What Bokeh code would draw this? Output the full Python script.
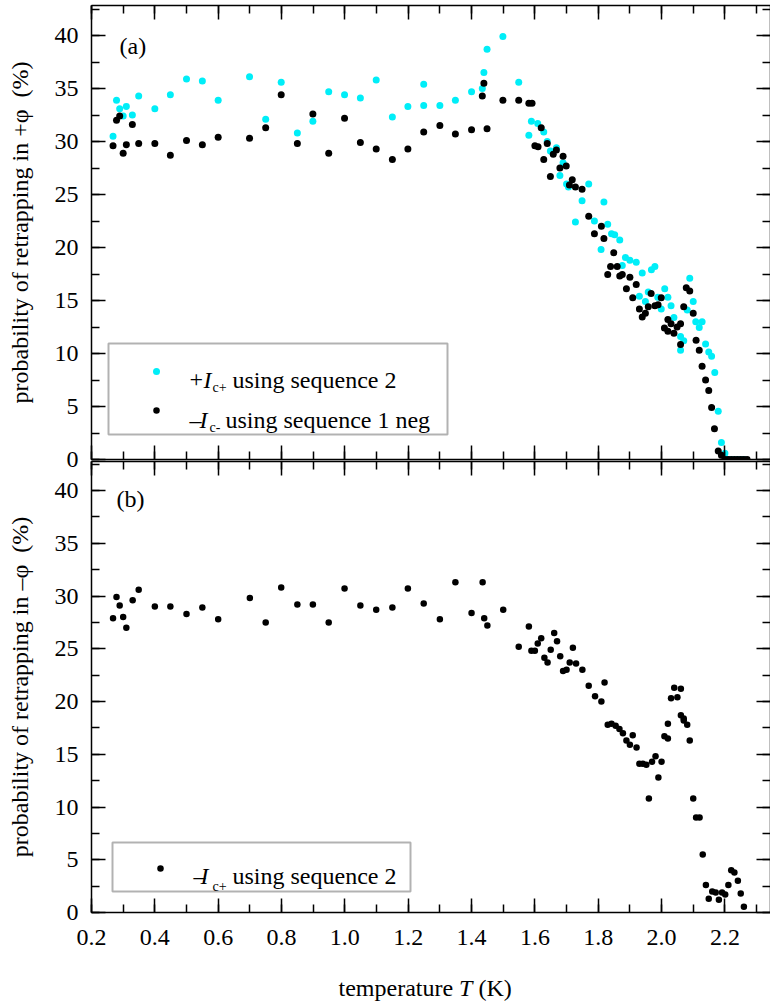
import math
from bokeh.plotting import figure
from bokeh.models import (LinearAxis, SingleIntervalTicker, PrintfTickFormatter,
                          Label, BoxAnnotation, Range1d)
from bokeh.layouts import column
from bokeh.embed import file_html
from bokeh.resources import INLINE

# ---------------- data ----------------
# panel (a): +Ic+ using sequence 2 (cyan)
a_cyan_T = [0.268, 0.279, 0.289, 0.300, 0.310, 0.329, 0.349, 0.400, 0.449, 0.500,
            0.550, 0.600, 0.699, 0.750, 0.799, 0.850, 0.899, 0.949, 0.999, 1.049,
            1.099, 1.150, 1.199, 1.249, 1.249, 1.300, 1.349, 1.400, 1.434, 1.439,
            1.449, 1.499, 1.549, 1.581, 1.589, 1.609, 1.628, 1.639, 1.649, 1.668,
            1.679, 1.689, 1.700, 1.706, 1.728, 1.749, 1.770, 1.788, 1.809, 1.818,
            1.830, 1.842, 1.852, 1.868, 1.876, 1.886, 1.900, 1.920, 1.930, 1.939,
            1.949, 1.958, 1.968, 1.979, 1.988, 1.999, 2.010, 2.020, 2.030, 2.039,
            2.060, 2.060, 2.070, 2.081, 2.089, 2.100, 2.108, 2.119, 2.128, 2.139,
            2.149, 2.158, 2.168, 2.179, 2.189, 2.200, 2.210, 2.220, 2.230, 2.240,
            2.250, 2.260]
a_cyan_P = [30.5, 33.9, 33.1, 32.4, 33.3, 32.5, 34.3, 33.1, 34.4, 35.9,
            35.7, 33.9, 36.1, 32.1, 35.6, 30.8, 31.9, 34.7, 34.4, 34.1,
            35.8, 32.3, 33.3, 35.4, 33.4, 33.4, 33.9, 34.7, 35.0, 36.5,
            38.7, 39.9, 35.6, 30.6, 31.9, 31.7, 30.9, 30.0, 29.1, 29.4,
            26.8, 28.0, 26.0, 25.7, 22.4, 24.4, 26.0, 22.5, 19.8, 24.3,
            22.2, 21.3, 21.2, 20.7, 18.3, 19.05, 18.8, 18.6, 15.4, 17.6,
            14.9, 15.8, 17.9, 18.2, 15.3, 14.2, 16.1, 15.3, 14.5, 13.4,
            11.6, 10.3, 11.2, 14.1, 17.1, 14.9, 13.0, 12.45, 13.0, 10.9,
            10.15, 9.75, 8.2, 4.55, 1.6, 0.6, 0.0, 0.0, 0.0, 0.0,
            0.0, 0.0]

# panel (a): -Ic- using sequence 1 neg (black)
a_black_T = [0.268, 0.279, 0.289, 0.300, 0.310, 0.329, 0.349, 0.400, 0.449, 0.500,
             0.550, 0.600, 0.699, 0.750, 0.799, 0.850, 0.899, 0.949, 0.999, 1.049,
             1.099, 1.150, 1.199, 1.249, 1.300, 1.349, 1.400, 1.434, 1.439, 1.449,
             1.499, 1.549, 1.581, 1.591, 1.600, 1.610, 1.620, 1.628, 1.639, 1.649,
             1.658, 1.668, 1.679, 1.689, 1.699, 1.709, 1.718, 1.728, 1.749, 1.770,
             1.788, 1.810, 1.818, 1.830, 1.839, 1.849, 1.860, 1.868, 1.876, 1.889,
             1.900, 1.909, 1.920, 1.930, 1.939, 1.949, 1.958, 1.967, 1.979, 1.989,
             1.999, 2.009, 2.020, 2.020, 2.030, 2.039, 2.049, 2.060, 2.060, 2.070,
             2.078, 2.089, 2.100, 2.109, 2.119, 2.128, 2.139, 2.149, 2.158, 2.167,
             2.179, 2.189, 2.200, 2.210, 2.220, 2.230, 2.240, 2.250, 2.260, 2.270]
a_black_P = [29.6, 32.0, 32.4, 28.9, 29.7, 31.6, 29.8, 29.8, 28.7, 30.1,
             29.7, 30.4, 30.3, 31.3, 34.4, 29.8, 32.6, 28.9, 32.2, 29.9,
             29.3, 28.3, 29.3, 30.9, 31.5, 30.7, 31.1, 34.3, 35.5, 31.2,
             33.9, 33.9, 33.6, 33.6, 29.6, 29.5, 31.3, 28.3, 29.8, 26.7,
             28.8, 29.2, 27.5, 28.6, 27.7, 25.9, 26.4, 25.7, 25.5, 22.95,
             21.3, 22.0, 20.85, 17.45, 18.2, 19.5, 18.2, 17.3, 17.45, 16.1,
             17.2, 15.25, 16.5, 14.2, 13.45, 13.8, 14.4, 15.65, 14.5, 14.6,
             15.25, 12.4, 13.2, 12.1, 12.8, 11.9, 12.5, 12.8, 10.85, 14.4,
             16.2, 15.9, 13.8, 11.25, 10.3, 8.8, 7.5, 6.5, 4.9, 2.9,
             0.8, 0.4, 0.0, 0.0, 0.0, 0.0, 0.0, 0.0, 0.0, 0.0]

# panel (b): -Ic+ using sequence 2 (black)
b_T = [0.268, 0.279, 0.289, 0.300, 0.310, 0.330, 0.349, 0.400, 0.449, 0.500,
       0.550, 0.600, 0.700, 0.750, 0.799, 0.850, 0.899, 0.949, 0.999, 1.049,
       1.099, 1.150, 1.199, 1.249, 1.300, 1.349, 1.400, 1.435, 1.440, 1.450,
       1.500, 1.549, 1.581, 1.589, 1.600, 1.609, 1.620, 1.630, 1.640, 1.650,
       1.661, 1.670, 1.680, 1.689, 1.700, 1.710, 1.720, 1.730, 1.750, 1.770,
       1.790, 1.810, 1.820, 1.830, 1.842, 1.855, 1.867, 1.878, 1.889, 1.900,
       1.909, 1.921, 1.930, 1.941, 1.952, 1.960, 1.970, 1.981, 1.990, 2.000,
       2.009, 2.020, 2.020, 2.030, 2.040, 2.050, 2.061, 2.061, 2.070, 2.070,
       2.081, 2.089, 2.100, 2.109, 2.120, 2.130, 2.140, 2.149, 2.160, 2.171,
       2.181, 2.191, 2.201, 2.211, 2.220, 2.230, 2.241, 2.250, 2.260]
b_P = [27.9, 29.9, 29.1, 28.0, 27.0, 29.6, 30.6, 29.0, 29.0, 28.3,
       28.9, 27.8, 29.8, 27.5, 30.8, 29.2, 29.2, 27.5, 30.7, 29.1,
       28.7, 28.9, 30.7, 29.3, 27.8, 31.3, 28.4, 31.3, 27.9, 27.2,
       28.7, 25.2, 27.1, 24.8, 24.8, 25.5, 26.0, 24.15, 23.7, 24.9,
       26.5, 25.7, 24.3, 22.9, 23.0, 23.7, 25.1, 23.6, 23.0, 21.5,
       20.5, 20.0, 21.8, 17.8, 17.9, 17.7, 17.4, 17.0, 16.3, 15.9,
       16.8, 15.65, 14.1, 14.1, 14.0, 10.8, 14.3, 14.8, 12.8, 14.3,
       16.7, 16.5, 17.9, 20.3, 21.3, 20.4, 21.2, 18.7, 18.4, 18.2,
       17.8, 16.3, 10.8, 9.0, 9.0, 5.5, 2.6, 1.3, 2.0, 1.9,
       1.2, 1.9, 1.7, 2.6, 4.0, 3.8, 3.0, 1.8, 0.55]

# ---------------- layout / style ----------------
FONT = "Liberation Serif"
CYAN = "#00EEF8"
FS = "24px"
W = 770
X0 = 0.2
FRAME_L, FRAME_R = 91, 770          # canvas x of the frames' left / right edges
PX_PER_K = 316.7
X1 = X0 + (FRAME_R - FRAME_L) / PX_PER_K

# panel (a) canvas: 0..476, frame 5..459
A_H, A_TOP, A_BOT = 476, 5, 459
A_END = (A_BOT - A_TOP) / 10.6
# panel (b) canvas starts at 460 (pulled up over the bottom of (a)), frame 461..912
B_START, B_H, B_TOP, B_BOT = 460, 495, 461, 912
B_END = (B_BOT - B_TOP) / 10.55
# x-title strip below (b)
C_START, C_H = B_START + B_H, 46


def px2x(px):
    return X0 + (px - FRAME_L) / (FRAME_R - FRAME_L) * (X1 - X0)


def style_axis(ax, labels):
    ax.axis_line_color = "black"
    ax.axis_line_width = 1.5
    ax.major_tick_line_color = "black"
    ax.minor_tick_line_color = "black"
    ax.major_tick_line_width = 1.5
    ax.minor_tick_line_width = 1.5
    ax.major_tick_in = 14
    ax.major_tick_out = 0
    ax.minor_tick_in = 8
    ax.minor_tick_out = 0
    if labels:
        ax.major_label_text_font = FONT
        ax.major_label_text_font_size = FS
        ax.major_label_text_color = "black"
    else:
        ax.major_label_text_font_size = "0px"
        ax.major_label_text_color = None
        ax.major_label_standoff = 0


def make_fig(height, top, bot, yend, xlabels, ytitle):
    p = figure(width=W, height=height, x_range=Range1d(X0, X1),
               y_range=Range1d(0, yend), output_backend="svg",
               toolbar_location=None, x_axis_location=None, y_axis_location=None,
               min_border_left=FRAME_L, min_border_right=0, min_border_top=top,
               min_border_bottom=height - bot, outline_line_color=None,
               background_fill_color=None, border_fill_color=None)
    p.xgrid.grid_line_color = None
    p.ygrid.grid_line_color = None
    xt = SingleIntervalTicker(interval=0.2, num_minor_ticks=2)
    yt = SingleIntervalTicker(interval=5, num_minor_ticks=2)
    bottom = LinearAxis(ticker=xt, formatter=PrintfTickFormatter(format="%.1f"))
    style_axis(bottom, xlabels)
    if xlabels:
        bottom.major_label_standoff = 17
    p.add_layout(bottom, "below")
    topax = LinearAxis(ticker=xt)
    style_axis(topax, False)
    p.add_layout(topax, "above")
    left = LinearAxis(ticker=yt, axis_label=ytitle)
    style_axis(left, True)
    left.major_label_standoff = 13
    left.axis_label_text_font = FONT
    left.axis_label_text_font_size = FS
    left.axis_label_text_font_style = "normal"
    left.axis_label_text_color = "black"
    left.axis_label_standoff = 19
    p.add_layout(left, "left")
    right = LinearAxis(ticker=yt)
    style_axis(right, False)
    p.add_layout(right, "right")
    return p


def text(p, px, py, y_of, s, size=FS, style="normal"):
    p.add_layout(Label(x=px2x(px), y=y_of(py), text=s, text_font=FONT,
                       text_font_size=size, text_font_style=style,
                       text_color="black", text_align="left",
                       text_baseline="alphabetic"))


def ya(py):
    return (A_BOT - py) / (A_BOT - A_TOP) * A_END


def yb(py):
    return (B_BOT - py) / (B_BOT - B_TOP) * B_END


def yc(py):
    return py - C_START


# ---------------- panel (a) ----------------
pa = make_fig(A_H, A_TOP, A_BOT, A_END, False,
              "probability of retrapping in +\u03c6\u00a0 (%)")
pa.scatter(a_cyan_T, a_cyan_P, size=7, fill_color=CYAN, line_color=None)
pa.scatter(a_black_T, a_black_P, size=7, fill_color="black", line_color=None)

text(pa, 119, 45.5, ya, "(a)")
pa.add_layout(BoxAnnotation(left=px2x(108), right=px2x(447), top=ya(343),
                            bottom=ya(434), fill_color="white", fill_alpha=1.0,
                            line_color="black", line_width=2))
pa.scatter([px2x(156)], [ya(371)], size=7, fill_color=CYAN, line_color=None,
           level="overlay")
pa.scatter([px2x(156)], [ya(410)], size=6.5, fill_color="black", line_color=None,
           level="overlay")
text(pa, 189, 379, ya, "+")
text(pa, 203, 379, ya, "I", style="italic")
text(pa, 212, 387, ya, "c+", size="14px")
text(pa, 232, 379, ya, "using sequence 2")
text(pa, 189, 419, ya, "\u2013")
text(pa, 199, 419, ya, "I", style="italic")
text(pa, 209, 427, ya, "c-", size="14px")
text(pa, 225, 419, ya, "using sequence 1 neg")

# ---------------- panel (b) ----------------
pb = make_fig(B_H, B_TOP - B_START, B_BOT - B_START, B_END, True,
              "probability of retrapping in \u2013\u03c6\u00a0 (%)")
pb.margin = (B_START - A_H, 0, 0, 0)
pb.scatter(b_T, b_P, size=6.5, fill_color="black", line_color=None)

text(pb, 116, 498.5, yb, "(b)")
pb.add_layout(BoxAnnotation(left=px2x(112), right=px2x(410), top=yb(842),
                            bottom=yb(891), fill_color="white", fill_alpha=1.0,
                            line_color="black", line_width=2))
pb.scatter([px2x(160)], [yb(868)], size=6.5, fill_color="black", line_color=None,
           level="overlay")
text(pb, 193, 875, yb, "\u2013")
text(pb, 200, 875, yb, "I", style="italic")
text(pb, 212, 886, yb, "c+", size="14px")
text(pb, 232, 875, yb, "using sequence 2")

# ---------------- x-axis title strip ----------------
pc = figure(width=W, height=C_H, x_range=Range1d(X0, X1), y_range=Range1d(C_H, 0),
            output_backend="svg", toolbar_location=None, x_axis_location=None,
            y_axis_location=None, min_border_left=FRAME_L, min_border_right=0,
            min_border_top=0, min_border_bottom=0, outline_line_color=None,
            background_fill_color=None, border_fill_color=None)
pc.xgrid.grid_line_color = None
pc.ygrid.grid_line_color = None
text(pc, 338, 987, yc, "temperature")
text(pc, 458.5, 987, yc, "T", style="italic")
text(pc, 478, 987, yc, "(K)")

layout = column(pa, pb, pc, spacing=0)
open("out.html", "w").write(file_html(layout, INLINE))
